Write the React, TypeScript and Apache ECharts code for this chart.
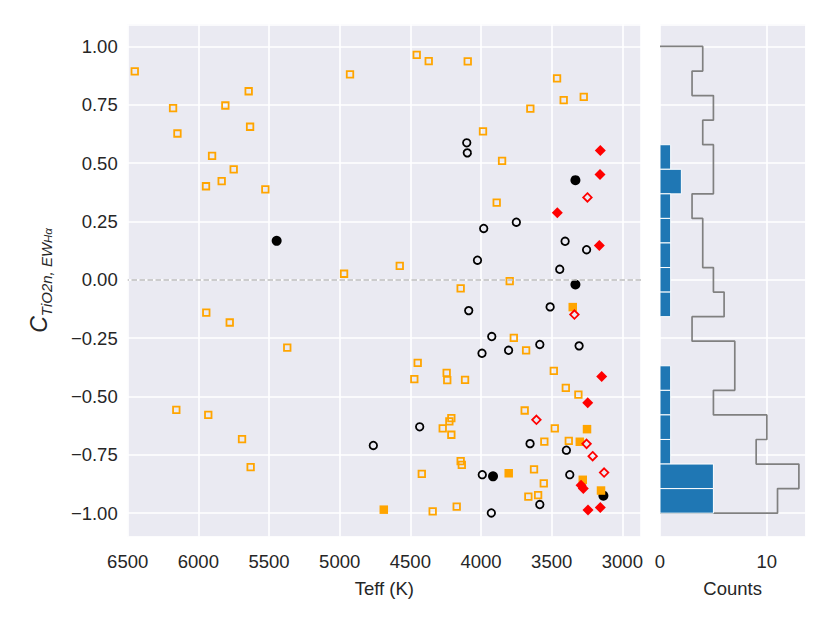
import React, { useEffect, useRef } from 'react';
import * as echarts from 'echarts';

// [Teff (K), C] pairs
const orangeOpen: [number, number][] = [
  [6450, 0.893], [6179, 0.736], [6148, 0.627], [5809, 0.747], [5644, 0.808], [5634, 0.656],
  [5903, 0.531], [5750, 0.473], [5946, 0.401], [5835, 0.423], [5526, 0.388], [4927, 0.880],
  [4969, 0.026], [4575, 0.060],
  [5944, -0.141], [5778, -0.183], [5371, -0.291], [6156, -0.557], [5930, -0.579], [5691, -0.683],
  [5630, -0.803],
  [4455, 0.964], [4370, 0.937], [4094, 0.936], [3462, 0.863], [3415, 0.770], [3273, 0.784],
  [3651, 0.734], [3986, 0.636], [3851, 0.510], [3889, 0.331], [4144, -0.037], [3797, -0.006],
  [3768, -0.249], [3681, -0.302], [4448, -0.356], [4472, -0.426], [4243, -0.399], [4239, -0.430],
  [4113, -0.429], [3485, -0.390], [3400, -0.463], [3311, -0.492], [3691, -0.560], [4210, -0.593],
  [4224, -0.607], [4271, -0.637], [4210, -0.664], [3478, -0.637], [3552, -0.693], [3379, -0.690],
  [4144, -0.777], [4136, -0.793], [4419, -0.832], [3625, -0.812], [3556, -0.872], [3665, -0.929],
  [3596, -0.923], [4342, -0.992], [4172, -0.972],
];

const blackOpen: [number, number][] = [
  [4762, -0.710], [4101, 0.587], [4097, 0.544], [3981, 0.220], [3750, 0.247], [4025, 0.084],
  [3405, 0.165], [3253, 0.129], [3443, 0.045],
  [4087, -0.132], [3511, -0.116], [3924, -0.243], [3993, -0.315], [3805, -0.302], [3584, -0.277],
  [3306, -0.283], [4434, -0.630], [3653, -0.702], [3396, -0.730], [3991, -0.835], [3372, -0.835],
  [3584, -0.963], [3927, -0.999],
];

const blackFilled: [number, number][] = [
  [5446, 0.167], [3332, 0.427], [3332, -0.020], [3915, -0.842], [3134, -0.925],
];

const orangeFilled: [number, number][] = [
  [4688, -0.985], [3351, -0.117], [3250, -0.640], [3301, -0.694], [3804, -0.829], [3280, -0.857],
  [3151, -0.903],
];

const redFilled: [number, number][] = [
  [3156, 0.554], [3158, 0.451], [3460, 0.287], [3163, 0.147], [3146, -0.414], [3245, -0.527],
  [3292, -0.880], [3276, -0.894], [3243, -0.986], [3156, -0.976],
];

const redOpen: [number, number][] = [
  [3247, 0.353], [3339, -0.149], [3608, -0.600], [3253, -0.703], [3210, -0.756], [3129, -0.826],
];

// Histogram (bins listed from top, C = 1.0, to bottom, C = -1.0)
const histRange: [number, number] = [-1.0, 1.0];
const histAllCounts = [4, 3, 5, 4, 5, 5, 3, 4, 4, 5, 6, 3, 7, 7, 5, 10, 9, 13, 11];
const histFilledCounts = [0, 0, 0, 0, 1, 2, 1, 1, 1, 1, 1, 0, 0, 1, 1, 1, 1, 5, 5];

const xRange: [number, number] = [2868, 6500];
const yRange: [number, number] = [-1.1, 1.095];
const countRange: [number, number] = [0, 13.6];

const FONT = '"Liberation Sans", Arial, sans-serif';
const TXT = '#262626';
const BG = '#EAEAF2';

function buildOption() {
  const nb = histAllCounts.length;
  const w = (histRange[1] - histRange[0]) / nb;
  const edgesHi = histAllCounts.map((_, i) => histRange[1] - i * w);
  const edgesLo = histAllCounts.map((_, i) => histRange[1] - (i + 1) * w);

  const stepData: [number, number][] = [[0, histRange[1]]];
  histAllCounts.forEach((c, i) => {
    stepData.push([c, edgesHi[i]]);
    stepData.push([c, edgesLo[i]]);
  });
  stepData.push([0, histRange[0]]);

  const barData = histFilledCounts
    .map((c, i) => [c, edgesLo[i], edgesHi[i]])
    .filter((d) => d[0] > 0);

  const yFmt = (v: number) => {
    const r = Math.round(v * 4) / 4;
    if (Math.abs(r - v) > 1e-6) return '';
    return r.toFixed(2).replace('-', '\u2212');
  };
  const xFmt = (v: number) => (Math.abs(v % 500) < 1e-6 ? String(v) : '');
  const cFmt = (v: number) => (Math.abs(v % 10) < 1e-6 ? String(v) : '');

  const splitLine = { show: true, lineStyle: { color: '#ffffff', width: 1.6 } };
  const labelStyle = { color: TXT, fontSize: 18.5, fontFamily: FONT };

  return {
    animation: false,
    backgroundColor: '#ffffff',
    grid: [
      { left: 127.7, top: 24.3, width: 513.3, height: 512.2, show: true, backgroundColor: BG, borderWidth: 0 },
      { left: 660, top: 24.3, width: 145.3, height: 512.2, show: true, backgroundColor: BG, borderWidth: 0 },
    ],
    xAxis: [
      {
        type: 'value', gridIndex: 0, inverse: true, min: xRange[0], max: xRange[1],
        minInterval: 500, maxInterval: 500,
        axisLine: { show: false }, axisTick: { show: false }, splitLine,
        axisLabel: { ...labelStyle, margin: 15, formatter: xFmt },
        name: 'Teff (K)', nameLocation: 'middle', nameGap: 42,
        nameTextStyle: { ...labelStyle },
      },
      {
        type: 'value', gridIndex: 1, min: countRange[0], max: countRange[1], interval: 10,
        axisLine: { show: false }, axisTick: { show: false }, splitLine,
        axisLabel: { ...labelStyle, margin: 15, formatter: cFmt },
        name: 'Counts', nameLocation: 'middle', nameGap: 42,
        nameTextStyle: { ...labelStyle },
      },
    ],
    yAxis: [
      {
        type: 'value', gridIndex: 0, min: yRange[0], max: yRange[1],
        minInterval: 0.25, maxInterval: 0.25,
        axisLine: { show: false }, axisTick: { show: false }, splitLine,
        axisLabel: { ...labelStyle, margin: 10, formatter: yFmt },
        name: '{c|C}{s|TiO2n, EW}{ss|Hα}', nameLocation: 'middle', nameGap: 74, nameRotate: 90,
        nameTextStyle: {
          color: TXT,
          rich: {
            c: { fontSize: 23, fontStyle: 'italic', fontFamily: FONT, color: TXT, lineHeight: 30, verticalAlign: 'middle' },
            s: { fontSize: 15, fontStyle: 'italic', fontFamily: FONT, color: TXT, lineHeight: 17, verticalAlign: 'bottom' },
            ss: { fontSize: 11.5, fontStyle: 'italic', fontFamily: FONT, color: TXT, lineHeight: 9, verticalAlign: 'bottom' },
          },
        },
      },
      {
        type: 'value', gridIndex: 1, min: yRange[0], max: yRange[1],
        minInterval: 0.25, maxInterval: 0.25,
        axisLine: { show: false }, axisTick: { show: false }, splitLine,
        axisLabel: { show: false },
      },
    ],
    series: [
      {
        type: 'scatter', name: 'orangeOpen', xAxisIndex: 0, yAxisIndex: 0, data: orangeOpen,
        symbol: 'rect', symbolSize: 6.5,
        itemStyle: { color: 'rgba(0,0,0,0)', borderColor: '#FFA500', borderWidth: 1.8, opacity: 1 },
        markLine: {
          silent: true, symbol: ['none', 'none'], label: { show: false },
          lineStyle: { type: [5.5, 2.5], color: '#bdbdbd', width: 1.5 },
          data: [{ yAxis: 0 }],
        },
        z: 2,
      },
      {
        type: 'scatter', name: 'blackOpen', xAxisIndex: 0, yAxisIndex: 0, data: blackOpen,
        symbol: 'circle', symbolSize: 7.5,
        itemStyle: { color: 'rgba(0,0,0,0)', borderColor: '#000000', borderWidth: 1.8, opacity: 1 },
        z: 3,
      },
      {
        type: 'scatter', name: 'blackFilled', xAxisIndex: 0, yAxisIndex: 0, data: blackFilled,
        symbol: 'circle', symbolSize: 10,
        itemStyle: { color: '#000000', opacity: 1 },
        z: 4,
      },
      {
        type: 'scatter', name: 'orangeFilled', xAxisIndex: 0, yAxisIndex: 0, data: orangeFilled,
        symbol: 'rect', symbolSize: 8.5,
        itemStyle: { color: '#FFA500', opacity: 1 },
        z: 5,
      },
      {
        type: 'scatter', name: 'redOpen', xAxisIndex: 0, yAxisIndex: 0, data: redOpen,
        symbol: 'diamond', symbolSize: 8.5,
        itemStyle: { color: 'rgba(0,0,0,0)', borderColor: '#FF0000', borderWidth: 1.8, opacity: 1 },
        z: 6,
      },
      {
        type: 'scatter', name: 'redFilled', xAxisIndex: 0, yAxisIndex: 0, data: redFilled,
        symbol: 'diamond', symbolSize: 11,
        itemStyle: { color: '#FF0000', opacity: 1 },
        z: 7,
      },
      {
        type: 'line', name: 'histAll', xAxisIndex: 1, yAxisIndex: 1, data: stepData,
        showSymbol: false, symbol: 'none',
        lineStyle: { color: '#808080', width: 1.7 },
        z: 2,
      },
      {
        type: 'custom', name: 'histFilled', xAxisIndex: 1, yAxisIndex: 1, data: barData,
        renderItem: (params: any, api: any) => {
          const c = api.value(0);
          const lo = api.value(1);
          const hi = api.value(2);
          const p0 = api.coord([0, hi]);
          const p1 = api.coord([c, lo]);
          return {
            type: 'rect',
            shape: { x: p0[0], y: p0[1], width: p1[0] - p0[0], height: p1[1] - p0[1] },
            style: { fill: '#1f77b4', stroke: '#ffffff', lineWidth: 1 },
          };
        },
        z: 3,
      },
    ],
  };
}

export default function App() {
  const ref = useRef<HTMLDivElement>(null);
  useEffect(() => {
    if (!ref.current) return;
    const chart = echarts.init(ref.current, undefined, { renderer: 'svg' });
    chart.setOption(buildOption() as any);
    return () => chart.dispose();
  }, []);
  return (
    <div
      ref={ref}
      style={{ position: 'fixed', left: 0, top: 0, width: 830, height: 623, background: '#ffffff' }}
    />
  );
}
